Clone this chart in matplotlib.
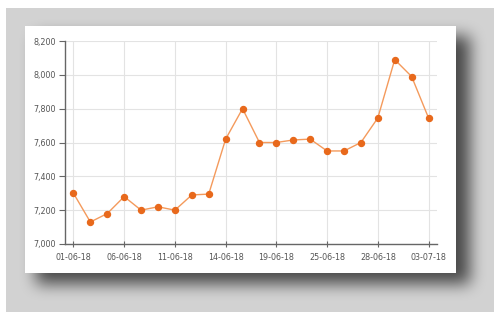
import matplotlib
matplotlib.use("Agg")
import matplotlib.pyplot as plt
import numpy as np
from matplotlib.ticker import FuncFormatter

dates = ["01-06-18", "04-06-18", "05-06-18", "06-06-18", "07-06-18", "08-06-18",
         "11-06-18", "12-06-18", "13-06-18", "14-06-18", "15-06-18", "18-06-18",
         "19-06-18", "20-06-18", "22-06-18", "25-06-18", "26-06-18", "27-06-18",
         "28-06-18", "29-06-18", "02-07-18", "03-07-18"]
values = [7300, 7130, 7180, 7280, 7200, 7220, 7200, 7290, 7295, 7620, 7800, 7600,
          7600, 7615, 7620, 7550, 7550, 7600, 7745, 8090, 7990, 7745]
label_every = 3
y_ticks = [7000, 7200, 7400, 7600, 7800, 8000, 8200]

W, H = 503, 318
fig = plt.figure(figsize=(W / 100, H / 100), dpi=100)
fig.patch.set_facecolor("white")

# ---- background: gray backdrop, soft drop shadow, white card ----
def box_blur(a, r, axis):
    k = np.ones(2 * r + 1) / (2 * r + 1)
    return np.apply_along_axis(lambda m: np.convolve(m, k, mode="same"), axis, a)

bg = np.ones((H, W, 3))
gray = np.array([0.827, 0.827, 0.827])
bg[8:312, 6:494] = gray
mask = np.zeros((H, W))
mask[36:284, 36:470] = 1.0
for _ in range(3):
    mask = box_blur(mask, 7, 0)
    mask = box_blur(mask, 7, 1)
shade = 0.65 * mask
region = np.zeros((H, W), bool)
region[8:312, 6:494] = True
for c in range(3):
    ch = bg[:, :, c]
    ch[region] = ch[region] * (1 - shade[region])
bg[26:273, 25:456] = 1.0
fig.figimage(bg, 0, 0, origin="upper", zorder=-5)

ax = fig.add_axes([65 / W, 1 - 244 / H, (437 - 65) / W, (244 - 41) / H])
ax.set_zorder(5)
ax.patch.set_alpha(0)

x = list(range(len(values)))
ax.plot(x, values, color="#f49a5c", linewidth=1.0, zorder=3)
ax.plot(x, values, linestyle="none", marker="o", markersize=4.3,
        markerfacecolor="#e8691c", markeredgecolor="#e8691c", zorder=4)

ax.set_xlim(-0.5, len(values) - 0.5)
ax.set_ylim(7000, 8200)
ax.set_yticks(y_ticks)
ax.yaxis.set_major_formatter(FuncFormatter(lambda v, p: f"{int(v):,}"))
tick_idx = list(range(0, len(values), label_every))
ax.set_xticks(tick_idx)
ax.set_xticklabels([dates[i] for i in tick_idx])

ax.grid(True, color="#e3e3e3", linewidth=0.8)
ax.set_axisbelow(True)
for s in ["top", "right"]:
    ax.spines[s].set_visible(False)
for s in ["left", "bottom"]:
    ax.spines[s].set_color("#666666")
    ax.spines[s].set_linewidth(1.0)

ax.tick_params(axis="y", direction="out", length=4, width=0.8, color="#666666",
               labelsize=5.8, labelcolor="#555555", pad=2.5)
ax.tick_params(axis="x", direction="inout", length=5, width=0.8, color="#666666",
               labelsize=5.8, labelcolor="#555555", pad=4)

fig.savefig("out.png", dpi=100)
